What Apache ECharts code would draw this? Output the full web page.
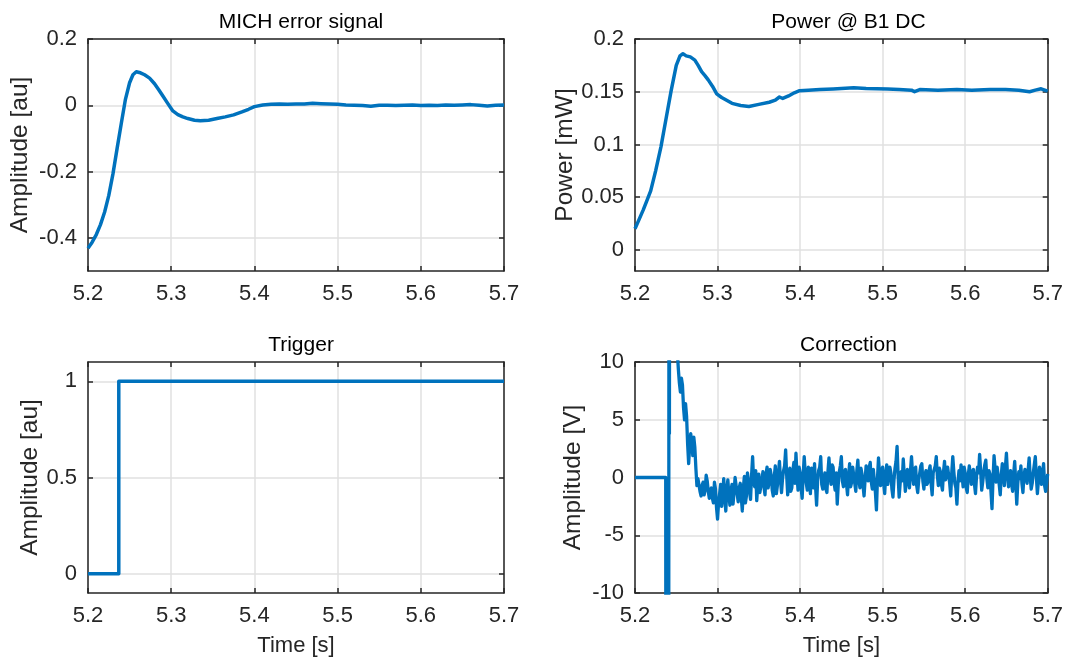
<!DOCTYPE html>
<html><head><meta charset="utf-8">
<script src="https://cdn.jsdelivr.net/npm/echarts@6/dist/echarts.min.js"></script>
<style>html,body{margin:0;padding:0;background:#fff}#c{width:1066px;height:660px}</style>
</head><body><div id="c"></div>
<script>
// ---------- DATA ----------
const titles = ['MICH error signal', 'Power @ B1 DC', 'Trigger', 'Correction'];
const yNames = ['Amplitude [au]', 'Power [mW]', 'Amplitude [au]', 'Amplitude [V]'];
const xName = 'Time [s]';
const xTickLabels = [5.2, 5.3, 5.4, 5.5, 5.6, 5.7];
const yTicksMich = [-0.4, -0.2, 0, 0.2];
const yTicksPower = [0, 0.05, 0.1, 0.15, 0.2];
const yTicksTrig = [0, 0.5, 1];
const yTicksCorr = [-10, -5, 0, 5, 10];

const michTime = [5.200,5.205,5.210,5.215,5.220,5.225,5.230,5.235,5.240,5.245,
  5.250,5.254,5.258,5.263,5.268,5.274,5.280,5.285,5.290,5.296,
  5.302,5.308,5.314,5.320,5.328,5.335,5.345,5.355,5.365,5.375,
  5.385,5.393,5.400,
  5.41,5.42,5.43,5.44,5.45,5.46,5.47,5.48,5.49,5.50,
  5.51,5.52,5.53,5.54,5.55,5.56,5.57,5.58,5.59,5.60,
  5.61,5.62,5.63,5.64,5.65,5.66,5.67,5.68,5.69,5.70];
const michValue = [-0.431,-0.413,-0.390,-0.360,-0.322,-0.272,-0.207,-0.130,-0.055,0.018,
  0.068,0.092,0.101,0.098,0.092,0.082,0.065,0.047,0.028,0.005,
  -0.017,-0.028,-0.035,-0.040,-0.045,-0.047,-0.045,-0.040,-0.035,-0.029,
  -0.020,-0.012,-0.004,
  0.001,0.003,0.004,0.003,0.004,0.004,0.006,0.005,0.004,0.003,
  0.001,0.000,-0.001,-0.003,0.000,0.000,-0.001,0.000,0.001,-0.001,
  0.000,-0.001,0.001,0.000,0.001,0.002,0.000,-0.002,0.000,0.001];

const powerTime = [5.200,5.205,5.210,5.215,5.219,5.225,5.2315,5.238,5.2438,5.250,
  5.2545,5.2581,5.262,5.267,5.2725,5.2765,5.2807,5.2850,5.2889,5.294,
  5.299,5.305,5.3175,5.328,5.338,5.350,5.3626,5.370,5.375,5.379,
  5.386,5.393,5.3994,5.410,5.424,5.44,5.465,5.48,5.506,5.52,
  5.535,5.5387,5.545,5.567,5.59,5.608,5.63,5.649,5.665,5.678,
  5.685,5.692,5.7];
const powerValue = [0.020,0.029,0.038,0.048,0.056,0.075,0.098,0.126,0.151,0.175,
  0.184,0.186,0.184,0.183,0.180,0.175,0.169,0.165,0.161,0.155,
  0.148,0.1445,0.139,0.137,0.136,0.138,0.140,0.142,0.145,0.1436,
  0.146,0.149,0.151,0.1515,0.152,0.1525,0.1537,0.153,0.1525,0.152,
  0.1515,0.150,0.152,0.1515,0.152,0.1515,0.152,0.152,0.1515,0.150,
  0.1515,0.1528,0.1505];

const trigTime = [5.2, 5.237, 5.237, 5.7];
const trigValue = [0, 0, 1, 1];

// correction: leading transient (goes off-scale) then a sampled noisy record
const corrLeadTime = [5.2, 5.2372, 5.2376, 5.2408, 5.2412, 5.2417, 5.2422, 5.2500, 5.2512];
const corrLeadValue = [0, 0, -40, -40, 40, 3.8, 40, 30, 11];
const corrStart = 5.2525, corrEnd = 5.7;
// samples on the main grid
const corrValue = [9.4,7.4,8.0,5.0,5.3,1.2,3.8,1.9,2.6,-0.7,
  -0.2,-1.6,-0.4,-1.1,-0.3,-1.8,-0.9,-2.2,-1.0,-3.6,
  -1.4,-2.5,-0.1,-2.9,-0.2,-2.4,-0.6,-1.3,0.0,-2.1,
  -0.5,-2.9,0.1,-1.6,-0.3,-1.9,1.8,-0.8,-2.0,0.3,
  -1.2,0.5,-1.5,0.9,-0.4,0.2,-1.6,1.0,-0.7,1.4,
  -1.3,0.6,2.4,-1.5,0.8,-0.9,1.3,2.1,-1.1,0.4,
  -1.8,1.8,-0.5,0.9,-1.4,0.3,1.2,-2.4,0.6,1.8,
  -1.0,0.4,-1.3,1.7,-0.6,0.9,-1.1,-2.3,0.5,1.8,
  -0.8,0.7,-1.5,1.2,-0.4,0.8,-1.2,1.5,-0.9,0.3,
  -1.6,1.0,-0.3,1.3,-1.0,0.6,-2.8,1.7,-0.7,0.9,
  -1.4,1.1,-0.5,0.4,-1.7,0.8,2.7,-1.7,0.5,1.6,
  -1.2,0.7,-0.9,1.8,-0.6,0.9,-1.3,0.4,1.2,-1.0,
  0.6,-0.4,1.0,-1.5,0.3,1.8,-0.7,0.5,-1.1,1.4,
  -0.3,0.8,-1.6,1.8,-0.5,-2.3,0.6,1.1,-0.8,0.4,
  -1.3,1.0,-0.6,0.7,-1.4,0.9,2.0,-1.1,0.5,1.5,
  -0.9,0.3,-2.7,1.9,-0.4,0.8,-1.5,1.2,-0.7,2.1,
  -0.8,0.6,-1.2,1.4,-2.3,0.5,1.0,-1.3,0.7,-0.5,
  1.7,-1.0,0.4,1.8,-1.4,0.9,-0.6,1.2,-1.2,0.3];
// samples half-way between the main-grid samples
const corrMidValue = [8.2,8.6,6.1,6.4,2.9,2.7,3.1,3.5,0.8,-0.1,
  -1.2,-0.7,-1.5,0.2,-1.2,-1.1,-1.8,-0.4,-2.6,-2.2,
  -0.6,-1.3,-1.8,-1.0,-1.6,-1.1,-2.3,0.0,-1.4,-0.9,
  -1.7,-0.9,-2.2,0.4,-1.2,0.2,-0.4,0.6,-0.6,-1.3,
  -0.2,-0.8,0.3,-0.9,0.7,-1.1,0.1,-1.4,0.4,-0.2,
  -0.1,1.0,0.2,-0.3,-1.2,0.6,-0.5,0.3,0.9,-0.9,
  0.2,0.4,-1.1,-0.2,0.8,-0.9,-0.8,-0.3,0.9,-0.6,
  -0.2,-1.0,0.5,0.2,1.1,-0.5,0.4,-0.6,1.0,-0.3,
  0.5,-0.6,0.1,-0.8,0.9,-0.5,0.6,-0.2,0.8,-0.7,
  -0.2,0.6,0.9,-0.4,0.7,-1.3,-0.1,0.3,0.6,-0.5,
  0.3,-0.6,0.9,-1.0,-0.2,1.4,0.2,-0.5,-0.3,0.2,
  -0.4,0.1,0.6,0.3,0.7,-0.7,-0.2,1.0,-0.3,0.2,
  -0.6,0.6,-0.5,0.4,1.0,0.2,0.8,-0.6,0.5,-0.2,
  0.9,-0.5,0.4,0.5,-0.9,-0.4,-0.3,0.2,0.9,-0.9,
  0.2,0.3,0.5,-0.6,0.1,0.4,0.6,-0.4,1.1,-0.1,
  0.6,-1.2,-0.1,0.8,0.9,-0.6,0.2,0.4,0.9,0.3,
  -0.2,-0.6,0.3,-0.4,-0.5,-0.1,-0.5,0.2,0.8,0.6,
  0.1,-0.5,1.1,0.0,-0.3,0.5,0.4,-0.7,-0.4];

// ---------- BUILD ----------
function pairs(t, v) { const n = Math.min(t.length, v.length); const out = []; for (let i = 0; i < n; i++) out.push([t[i], v[i]]); return out; }
const corrData = pairs(corrLeadTime, corrLeadValue);
const corrStep = (corrEnd - corrStart) / (corrValue.length - 1);
for (let i = 0; i < corrValue.length; i++) {
  const t = corrStart + corrStep * i;
  corrData.push([t, corrValue[i]]);
  if (i < corrMidValue.length && i < corrValue.length - 1) corrData.push([t + corrStep / 2, corrMidValue[i]]);
}

const FONT = '"Liberation Sans", Arial, Helvetica, sans-serif';
const TXT = '#262626';
const BLUE = '#0072BD';
const grids = [
  {left: 88, top: 39, width: 416, height: 232},
  {left: 635, top: 39, width: 417, height: 232},
  {left: 88, top: 362, width: 416, height: 231},
  {left: 635, top: 362, width: 417, height: 231}
];
const yRanges = [[-0.5, 0.2, yTicksMich], [-0.02, 0.2, yTicksPower], [-0.1, 1.1, yTicksTrig], [-10, 10, yTicksCorr]];
const yGaps = [55, 56, 43, 49];

const xAxes = [], yAxes = [], titleArr = [];
grids.forEach((g, i) => {
  xAxes.push({
    type: 'value', gridIndex: i, min: 5.2, max: 5.7, interval: 0.1, position: 'bottom',
    name: i >= 2 ? xName : '', nameLocation: 'middle', nameGap: 42,
    nameTextStyle: {fontFamily: FONT, fontSize: 22, color: TXT},
    axisLine: {show: true, onZero: false, lineStyle: {color: TXT, width: 1.5}},
    axisTick: {show: true, inside: true, length: 5, lineStyle: {color: TXT, width: 1.5}},
    axisLabel: {show: true, margin: 12, fontFamily: FONT, fontSize: 22, color: TXT, showMinLabel: true, showMaxLabel: true,
      customValues: xTickLabels, formatter: v => v.toFixed(1)},
    splitLine: {show: true, lineStyle: {color: '#e0e0e0', width: 1.5}}
  });
  const r = yRanges[i];
  yAxes.push({
    type: 'value', gridIndex: i, min: r[0], max: r[1], position: 'left',
    name: yNames[i], nameLocation: 'middle', nameGap: yGaps[i],
    nameTextStyle: {fontFamily: FONT, fontSize: 24.5, color: TXT},
    axisLine: {show: true, onZero: false, lineStyle: {color: TXT, width: 1.5}},
    axisTick: {show: true, inside: true, length: 5, customValues: r[2], lineStyle: {color: TXT, width: 1.5}},
    axisLabel: {show: true, margin: 11, fontFamily: FONT, fontSize: 22, color: TXT, customValues: r[2],
      showMinLabel: true, showMaxLabel: true, formatter: v => String(+v.toFixed(4))},
    splitLine: {show: true, lineStyle: {color: '#e0e0e0', width: 1.5}}
  });
  titleArr.push({
    text: titles[i], left: g.left + g.width / 2, top: g.top - 32, textAlign: 'center',
    textStyle: {fontFamily: FONT, fontSize: 21, fontWeight: 'normal', color: '#000'}
  });
});
grids.forEach((g, i) => {
  xAxes.push({
    type: 'value', gridIndex: i, min: 5.2, max: 5.7, interval: 0.1, position: 'top',
    axisLine: {show: true, onZero: false, lineStyle: {color: TXT, width: 1.5}},
    axisTick: {show: true, inside: true, length: 5, lineStyle: {color: TXT, width: 1.5}},
    axisLabel: {show: false}, splitLine: {show: false}
  });
  const r = yRanges[i];
  yAxes.push({
    type: 'value', gridIndex: i, min: r[0], max: r[1], position: 'right',
    axisLine: {show: true, onZero: false, lineStyle: {color: TXT, width: 1.5}},
    axisTick: {show: true, inside: true, length: 5, customValues: r[2], lineStyle: {color: TXT, width: 1.5}},
    axisLabel: {show: false}, splitLine: {show: false}
  });
});

const seriesData = [pairs(michTime, michValue), pairs(powerTime, powerValue), pairs(trigTime, trigValue), corrData];
const widths = [3.5, 3.5, 3.5, 3.3];
const series = seriesData.map((d, i) => ({
  type: 'line', xAxisIndex: i, yAxisIndex: i, data: d, showSymbol: false, symbol: 'none',
  clip: true, lineStyle: {color: BLUE, width: widths[i], join: 'round'}, itemStyle: {color: BLUE},
  smooth: false, animation: false
}));

const chart = echarts.init(document.getElementById('c'), null, {renderer: 'canvas'});
chart.setOption({
  animation: false, backgroundColor: '#fff',
  title: titleArr, grid: grids.map(g => Object.assign({containLabel: false}, g)),
  xAxis: xAxes, yAxis: yAxes, series: series
});
</script></body></html>
